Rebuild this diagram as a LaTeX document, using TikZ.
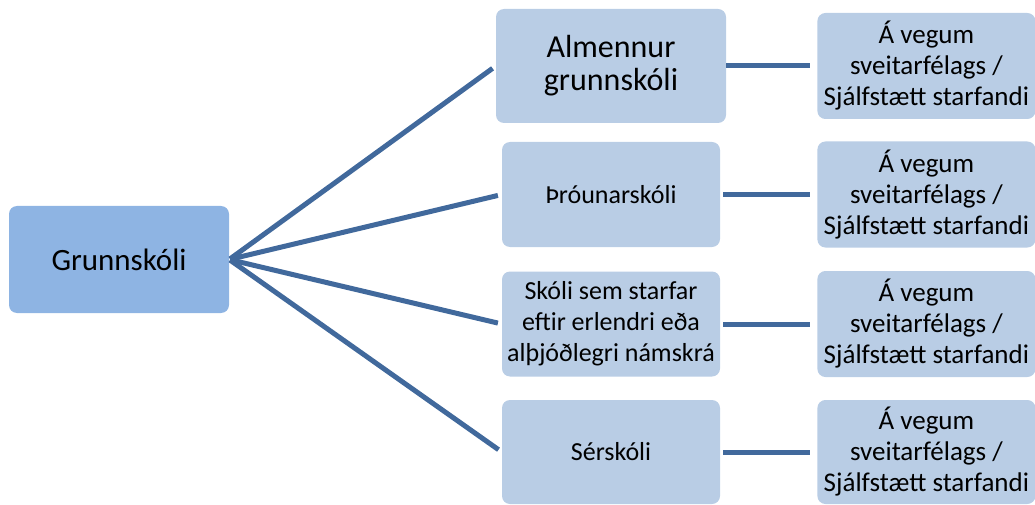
\documentclass[tikz,border=0pt]{standalone}
\usepackage{fontspec}
\setmainfont{Carlito}
\usepackage{tikz}
\usetikzlibrary{positioning}

\definecolor{boxdark}{HTML}{8EB4E3}
\definecolor{boxlight}{HTML}{B9CDE5}
\definecolor{linkblue}{HTML}{41699C}

\begin{document}
\begin{tikzpicture}[
      x=1pt,y=1pt,
      root/.style = {rectangle,rounded corners=8pt,fill=boxdark,text centered,
        minimum width=220pt,minimum height=107pt,font=\fontsize{31}{33}\selectfont},
      kind/.style = {rectangle,rounded corners=8pt,fill=boxlight,align=center,
        minimum width=218pt,minimum height=105pt,inner sep=1pt,font=\fontsize{26}{31}\selectfont},
      owner/.style = {kind,minimum height=106pt,font=\fontsize{27}{31}\selectfont},
      link/.style = {line width=5pt,draw=linkblue}
    ]
      \useasboundingbox (0,0) rectangle (1035,504);

      \node (grunn)[root] at (119,244.5) {Grunnskóli};
      \node (almenn)[kind,minimum width=230pt,minimum height=114pt,font=\fontsize{32}{33}\selectfont] at (611,438) {Almennur\\grunnskóli};
      \node (throun)[kind] at (611,309.5) {Þróunarskóli};
      \node (erlend)[kind] at (611,180) {Skóli sem starfar\\eftir erlendri eða\\alþjóðlegri námskrá};
      \node (serskoli)[kind,minimum height=104pt] at (611,52) {Sérskóli};

      \node (owner1)[owner,right = 91pt of almenn] {Á vegum\\sveitarfélags /\\Sjálfstætt starfandi};
      \node (owner2)[owner,right = 97pt of throun] {Á vegum\\sveitarfélags /\\Sjálfstætt starfandi};
      \node (owner3)[owner,right = 97pt of erlend] {Á vegum\\sveitarfélags /\\Sjálfstætt starfandi};
      \node (owner4)[owner,right = 97pt of serskoli,minimum height=104pt] {Á vegum\\sveitarfélags /\\Sjálfstætt starfandi};

      \foreach \k in {almenn,throun,erlend,serskoli}
        \path (grunn.east) edge[link,shorten >=4pt,shorten <=1pt] (\k.west);

      \path (almenn.east) edge[link,shorten >=7pt] (owner1.west);
      \path (throun.east) edge[link,shorten <=3pt,shorten >=7pt] (owner2.west);
      \path (erlend.east) edge[link,shorten <=3pt,shorten >=7pt] (owner3.west);
      \path (serskoli.east) edge[link,shorten <=3pt,shorten >=7pt] (owner4.west);
    \end{tikzpicture}
\end{document}
